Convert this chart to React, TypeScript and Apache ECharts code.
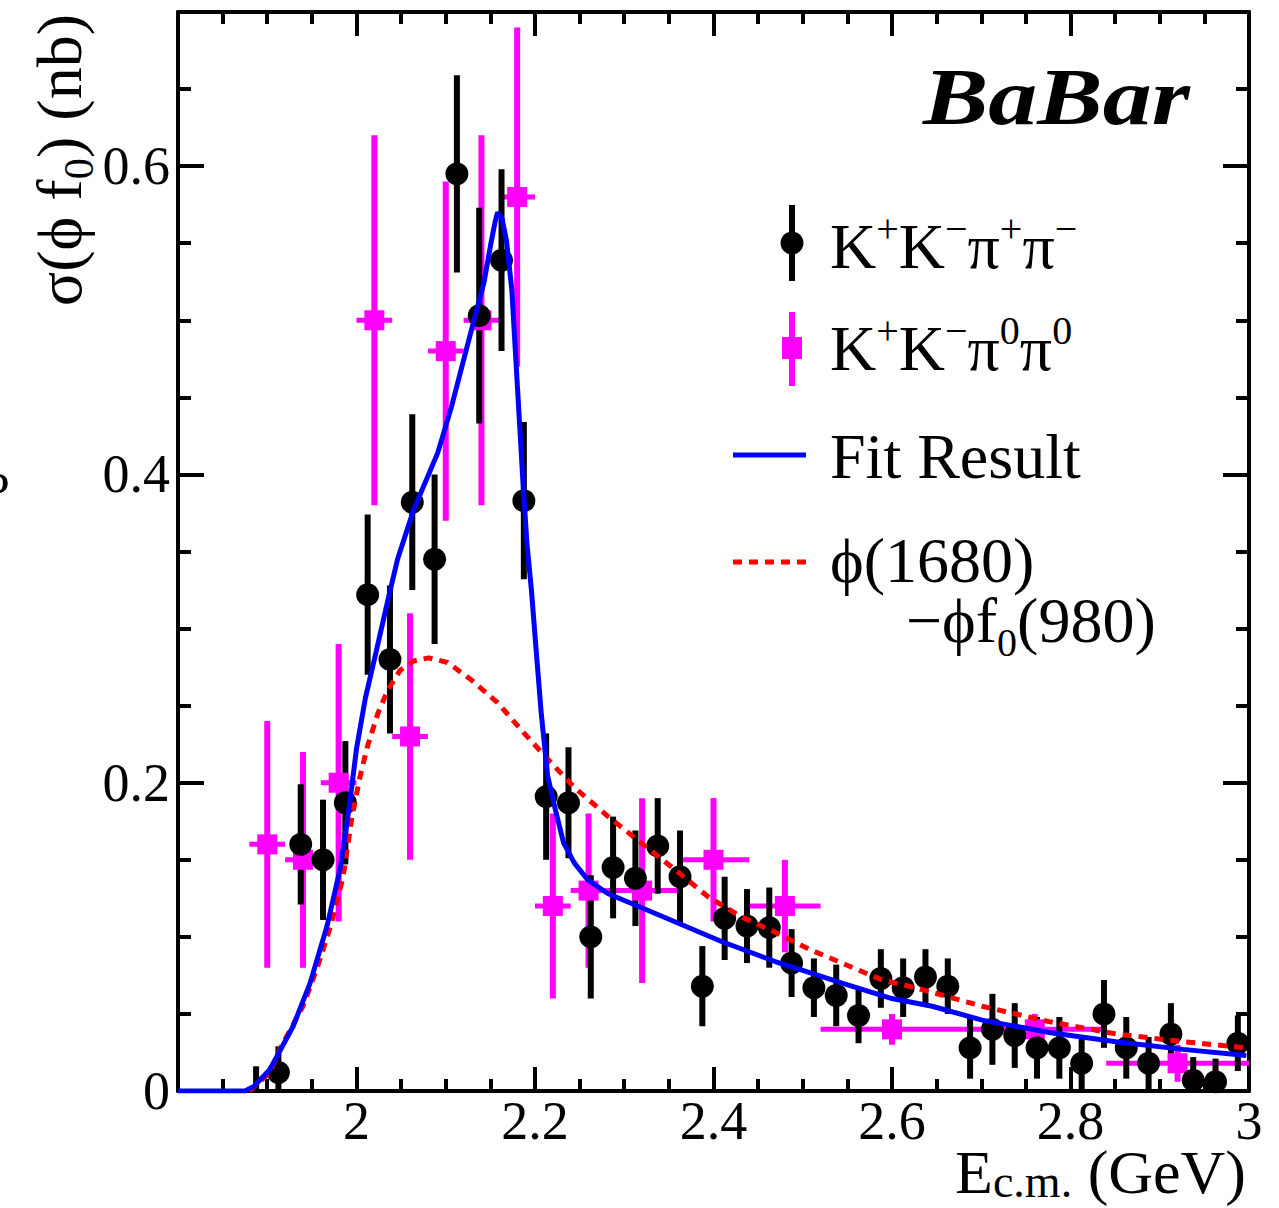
import React, { useEffect, useRef } from 'react';
import * as echarts from 'echarts';

const FF = '"Liberation Serif", "Times New Roman", serif';

// K+K-pi+pi- (black points)
const blackE = [
  1.8875, 1.9125, 1.9375, 1.9625, 1.9875, 2.0125, 2.0375, 2.0625, 2.0875, 2.1125,
  2.1375, 2.1625, 2.1875, 2.2125, 2.2375, 2.2625, 2.2875, 2.3125, 2.3375, 2.3625,
  2.3875, 2.4125, 2.4375, 2.4625, 2.4875, 2.5125, 2.5375, 2.5625, 2.5875, 2.6125,
  2.6375, 2.6625, 2.6875, 2.7125, 2.7375, 2.7625, 2.7875, 2.8125, 2.8375, 2.8625,
  2.8875, 2.9125, 2.9375, 2.9625, 2.9875,
];
const blackVal = [
  -0.004, 0.012, 0.160, 0.150, 0.187, 0.322, 0.280, 0.382, 0.345, 0.595,
  0.503, 0.539, 0.383, 0.191, 0.187, 0.100, 0.145, 0.138, 0.159, 0.139,
  0.068, 0.112, 0.107, 0.106, 0.083, 0.067, 0.062, 0.049, 0.073, 0.067,
  0.074, 0.068, 0.028, 0.040, 0.036, 0.028, 0.028, 0.018, 0.050, 0.028,
  0.018, 0.037, 0.007, 0.006, 0.031,
];
const blackErr = [
  0.020, 0.017, 0.039, 0.039, 0.040, 0.052, 0.048, 0.057, 0.055, 0.064,
  0.070, 0.059, 0.051, 0.041, 0.036, 0.040, 0.033, 0.031, 0.031, 0.030,
  0.026, 0.027, 0.024, 0.026, 0.022, 0.019, 0.020, 0.018, 0.019, 0.019,
  0.018, 0.018, 0.020, 0.023, 0.021, 0.020, 0.020, 0.018, 0.022, 0.020,
  0.017, 0.020, 0.015, 0.015, 0.018,
];

// K+K-pi0pi0 (magenta points)
const magE = [1.90, 1.94, 1.98, 2.02, 2.06, 2.10, 2.14, 2.18, 2.22, 2.26, 2.32, 2.40, 2.48, 2.60, 2.76, 2.92];
const magHalfBin = [0.02, 0.02, 0.02, 0.02, 0.02, 0.02, 0.02, 0.02, 0.02, 0.02, 0.04, 0.04, 0.04, 0.08, 0.08, 0.08];
const magVal = [0.160, 0.150, 0.200, 0.500, 0.230, 0.480, 0.500, 0.580, 0.120, 0.130, 0.130, 0.150, 0.120, 0.040, 0.040, 0.018];
const magErr = [0.080, 0.070, 0.090, 0.120, 0.080, 0.110, 0.120, 0.110, 0.060, 0.050, 0.060, 0.040, 0.030, 0.010, 0.010, 0.012];

// Fit result curve
const fitE = [
  1.800, 1.875, 1.885, 1.903, 1.929, 1.948, 1.967, 1.982, 1.992, 2.000,
  2.010, 2.022, 2.035, 2.046, 2.064, 2.091, 2.106, 2.128, 2.143, 2.150,
  2.155, 2.158, 2.163, 2.168, 2.174, 2.180, 2.186, 2.191, 2.196, 2.201,
  2.207, 2.214, 2.223, 2.232, 2.244, 2.259, 2.282, 2.319, 2.364, 2.409,
  2.469, 2.507, 2.544, 2.600, 2.645, 2.701, 2.776, 2.851, 2.926, 2.997,
];
const fitVal = [
  0.000, 0.000, 0.003, 0.014, 0.042, 0.070, 0.107, 0.145, 0.185, 0.222,
  0.255, 0.285, 0.318, 0.345, 0.377, 0.414, 0.443, 0.492, 0.525, 0.548,
  0.563, 0.570, 0.566, 0.552, 0.520, 0.460, 0.400, 0.355, 0.325, 0.288,
  0.245, 0.205, 0.182, 0.161, 0.148, 0.137, 0.128, 0.119, 0.108, 0.097,
  0.084, 0.077, 0.070, 0.060, 0.055, 0.046, 0.038, 0.032, 0.027, 0.023,
];

// phi(1680) -> phi f0(980) component
const phiE = [
  1.880, 1.903, 1.914, 1.940, 1.956, 1.971, 1.985, 1.995, 2.004, 2.012,
  2.024, 2.035, 2.049, 2.064, 2.081, 2.102, 2.128, 2.158, 2.188, 2.218,
  2.244, 2.282, 2.319, 2.356, 2.394, 2.431, 2.469, 2.507, 2.544, 2.589,
  2.626, 2.701, 2.776, 2.851, 2.926, 2.997,
];
const phiVal = [
  0.000, 0.012, 0.027, 0.055, 0.080, 0.107, 0.139, 0.178, 0.204, 0.223,
  0.245, 0.260, 0.273, 0.279, 0.281, 0.278, 0.267, 0.252, 0.232, 0.213,
  0.197, 0.178, 0.161, 0.144, 0.126, 0.113, 0.103, 0.092, 0.083, 0.072,
  0.067, 0.055, 0.045, 0.037, 0.032, 0.028,
];

const xTicks = [2, 2.2, 2.4, 2.6, 2.8, 3];
const yTicks = [0, 0.2, 0.4, 0.6];

const X_MIN = 1.8, X_MAX = 3.0, Y_MIN = 0, Y_MAX = 0.7;

let mctx: CanvasRenderingContext2D | null = null;
function tw(t: string, s: number, w = 'normal', st = 'normal') {
  if (!mctx) mctx = document.createElement('canvas').getContext('2d');
  mctx!.font = `${st} ${w} ${s}px "Liberation Serif"`;
  return mctx!.measureText(t).width;
}

type Seg = { t: string; s: number; dy?: number; w?: string; st?: string };

function lineEls(segs: Seg[], x0: number, base: number, fill: string) {
  const els: any[] = [];
  let x = x0;
  for (const g of segs) {
    els.push({
      type: 'text',
      x,
      y: base + (g.dy || 0) - 0.3375 * g.s,
      style: {
        text: g.t, fontSize: g.s, fontFamily: FF, fontWeight: g.w || 'normal',
        fontStyle: g.st || 'normal', fill, align: 'left', verticalAlign: 'middle',
        lineHeight: Math.round(g.s * 0.8),
      },
    });
    x += tw(g.t, g.s, g.w || 'normal', g.st || 'normal');
  }
  return { els, width: x - x0 };
}
function segWidth(segs: Seg[]) {
  return segs.reduce((a, g) => a + tw(g.t, g.s, g.w || 'normal', g.st || 'normal'), 0);
}

function axisCommon(extra: any) {
  return Object.assign({
    type: 'value',
    splitLine: { show: false },
    axisLine: { show: false, onZero: false, lineStyle: { color: '#000', width: 4 } },
    axisTick: { show: true, inside: true, lineStyle: { color: '#000', width: 4 } },
    axisLabel: { show: false },
  }, extra);
}

export default function App() {
  const ref = useRef<HTMLDivElement>(null);
  useEffect(() => {
    const chart = echarts.init(ref.current!, undefined, { renderer: 'svg' });

    const B = 54; // tick label size
    const T = 62; // title size
    const L = 64; // legend size
    const SUP = 40;

    // x axis title
    const xSegs: Seg[] = [
      { t: 'E', s: T }, { t: 'c.m.', s: 46, dy: 4 }, { t: ' (GeV)', s: T },
    ];
    const xw = segWidth(xSegs);
    const xTitle = lineEls(xSegs, 1246 - xw, 1193, '#000');

    // y axis title (rotated)
    const ySegs: Seg[] = [
      { t: 'σ(ϕ f', s: 64 }, { t: '0', s: 43, dy: 12 }, { t: ') (nb)', s: 64 },
    ];
    const yw = segWidth(ySegs);
    const yTitle = lineEls(ySegs, 0, 0, '#000');

    // legend texts
    const row1 = lineEls([
      { t: 'K', s: L }, { t: '+', s: SUP, dy: -26 }, { t: 'K', s: L }, { t: '−', s: SUP, dy: -26 },
      { t: 'π', s: L }, { t: '+', s: SUP, dy: -26 }, { t: 'π', s: L }, { t: '−', s: SUP, dy: -26 },
    ], 830, 268, '#000');
    const row2 = lineEls([
      { t: 'K', s: L }, { t: '+', s: SUP, dy: -26 }, { t: 'K', s: L }, { t: '−', s: SUP, dy: -26 },
      { t: 'π', s: L }, { t: '0', s: SUP, dy: -26 }, { t: 'π', s: L }, { t: '0', s: SUP, dy: -26 },
    ], 830, 370, '#000');
    const row3 = lineEls([{ t: 'Fit Result', s: L }], 830, 478, '#000');
    const row4 = lineEls([{ t: 'ϕ(1680)', s: L }], 830, 582, '#000');
    const row5 = lineEls([
      { t: '−ϕf', s: L }, { t: '0', s: SUP, dy: 14 }, { t: '(980)', s: L },
    ], 906, 642, '#000');

    const babarW = tw('BaBar', 81, 'bold', 'italic');
    const babarScale = 267 / babarW;

    const graphics: any[] = [
      ...xTitle.els,
      { type: 'group', x: 81, y: 14 + yw, rotation: Math.PI / 2, children: yTitle.els },
      ...row1.els, ...row2.els, ...row3.els, ...row4.els, ...row5.els,
      {
        type: 'group', x: 923, y: 124, scaleX: babarScale,
        children: lineEls([{ t: 'BaBar', s: 81, w: 'bold', st: 'italic' }], 0, 0, '#000').els,
      },
      // legend symbols
      { type: 'line', shape: { x1: 792, y1: 205, x2: 792, y2: 281 }, style: { stroke: '#000', lineWidth: 6 } },
      { type: 'circle', shape: { cx: 792, cy: 243, r: 11.5 }, style: { fill: '#000' } },
      { type: 'line', shape: { x1: 792, y1: 312, x2: 792, y2: 386 }, style: { stroke: '#ff00ff', lineWidth: 6 } },
      { type: 'rect', shape: { x: 782, y: 337, width: 20, height: 22 }, style: { fill: '#ff00ff' } },
      { type: 'line', shape: { x1: 733, y1: 455, x2: 806, y2: 455 }, style: { stroke: '#0000ff', lineWidth: 5 } },
      { type: 'line', shape: { x1: 733, y1: 562, x2: 806, y2: 562 }, style: { stroke: '#ff0000', lineWidth: 5, lineDash: [9, 7] } },
      // cropped glyph at the left edge (as in the reference)
      { type: 'text', x: -14, y: 510 - 0.3375 * 54, style: { text: '?', fontSize: 54, fontFamily: FF, fill: '#000', align: 'left', verticalAlign: 'middle' } },
    ];

    const xLabelFmt = (v: number) => (xTicks.some((t) => Math.abs(t - v) < 1e-6) ? String(+v.toFixed(2)) : '');
    const yLabelFmt = (v: number) => (yTicks.some((t) => Math.abs(t - v) < 1e-6) ? String(+v.toFixed(2)) : '');

    const option: any = {
      animation: false,
      backgroundColor: '#ffffff',
      grid: { left: 178, right: 30, top: 12, bottom: 117, containLabel: false },
      xAxis: [
        axisCommon({
          min: X_MIN, max: X_MAX, interval: 0.2, position: 'bottom',
          axisLine: { show: true, onZero: false, lineStyle: { color: '#000', width: 4 } },
          axisTick: { show: true, inside: true, length: 24, lineStyle: { color: '#000', width: 4 } },
          axisLabel: {
            show: true, showMinLabel: false, formatter: xLabelFmt, margin: 8,
            fontSize: B, fontFamily: FF, color: '#000', lineHeight: 44,
          },
        }),
        axisCommon({ min: X_MIN, max: X_MAX, interval: 0.05, position: 'bottom',
          axisTick: { show: true, inside: true, length: 12, lineStyle: { color: '#000', width: 4 } } }),
        axisCommon({
          min: X_MIN, max: X_MAX, interval: 0.2, position: 'top',
          axisLine: { show: true, onZero: false, lineStyle: { color: '#000', width: 4 } },
          axisTick: { show: true, inside: true, length: 24, lineStyle: { color: '#000', width: 4 } },
        }),
        axisCommon({ min: X_MIN, max: X_MAX, interval: 0.05, position: 'top',
          axisTick: { show: true, inside: true, length: 12, lineStyle: { color: '#000', width: 4 } } }),
      ],
      yAxis: [
        axisCommon({
          min: Y_MIN, max: Y_MAX, interval: 0.2, position: 'left',
          axisLine: { show: true, onZero: false, lineStyle: { color: '#000', width: 4 } },
          axisTick: { show: true, inside: true, length: 26, lineStyle: { color: '#000', width: 4 } },
          axisLabel: {
            show: true, showMaxLabel: false, formatter: yLabelFmt, margin: 8,
            fontSize: B, fontFamily: FF, color: '#000',
          },
        }),
        axisCommon({ min: Y_MIN, max: Y_MAX, interval: 0.05, position: 'left',
          axisTick: { show: true, inside: true, length: 13, lineStyle: { color: '#000', width: 4 } } }),
        axisCommon({
          min: Y_MIN, max: Y_MAX, interval: 0.2, position: 'right',
          axisLine: { show: true, onZero: false, lineStyle: { color: '#000', width: 4 } },
          axisTick: { show: true, inside: true, length: 26, lineStyle: { color: '#000', width: 4 } },
        }),
        axisCommon({ min: Y_MIN, max: Y_MAX, interval: 0.05, position: 'right',
          axisTick: { show: true, inside: true, length: 13, lineStyle: { color: '#000', width: 4 } } }),
      ],
      graphic: graphics,
      series: [
        {
          name: 'K+K−π0π0 errors', type: 'custom', xAxisIndex: 0, yAxisIndex: 0, clip: true,
          encode: { x: 0, y: 1 },
          data: magE.map((e, i) => [e, magVal[i], magErr[i], magHalfBin[i]]),
          renderItem: (params: any, api: any) => {
            const x = api.value(0), v = api.value(1), er = api.value(2), hw = api.value(3);
            const a = api.coord([x, Math.max(Y_MIN, v - er)]);
            const b = api.coord([x, Math.min(Y_MAX, v + er)]);
            const c = api.coord([Math.max(X_MIN, x - hw), v]);
            const d = api.coord([Math.min(X_MAX, x + hw), v]);
            return {
              type: 'group',
              children: [
                { type: 'line', shape: { x1: a[0], y1: a[1], x2: b[0], y2: b[1] }, style: { stroke: '#ff00ff', lineWidth: 6 } },
                { type: 'line', shape: { x1: c[0], y1: c[1], x2: d[0], y2: d[1] }, style: { stroke: '#ff00ff', lineWidth: 5 } },
              ],
            };
          },
        },
        {
          name: 'K+K−π0π0', type: 'scatter', xAxisIndex: 0, yAxisIndex: 0, clip: true,
          symbol: 'rect', symbolSize: 20, itemStyle: { color: '#ff00ff', opacity: 1 },
          data: magE.map((e, i) => [e, magVal[i]]),
        },
        {
          name: 'K+K−π+π− errors', type: 'custom', xAxisIndex: 0, yAxisIndex: 0, clip: true,
          encode: { x: 0, y: 1 },
          data: blackE.map((e, i) => [e, blackVal[i], blackErr[i]]),
          renderItem: (params: any, api: any) => {
            const x = api.value(0), v = api.value(1), er = api.value(2);
            const a = api.coord([x, Math.max(Y_MIN, v - er)]);
            const b = api.coord([x, Math.min(Y_MAX, v + er)]);
            return { type: 'line', shape: { x1: a[0], y1: a[1], x2: b[0], y2: b[1] }, style: { stroke: '#000', lineWidth: 6 } };
          },
        },
        {
          name: 'K+K−π+π−', type: 'scatter', xAxisIndex: 0, yAxisIndex: 0, clip: true,
          symbol: 'circle', symbolSize: 23, itemStyle: { color: '#000', opacity: 1 },
          data: blackE.map((e, i) => [e, blackVal[i]]),
        },
        {
          name: 'ϕ(1680)−ϕf0(980)', type: 'line', xAxisIndex: 0, yAxisIndex: 0, clip: true,
          showSymbol: false, symbol: 'none', smooth: false,
          lineStyle: { color: '#ff0000', width: 5, type: [9, 7] },
          data: phiE.map((e, i) => [e, phiVal[i]]),
        },
        {
          name: 'Fit Result', type: 'line', xAxisIndex: 0, yAxisIndex: 0, clip: true,
          showSymbol: false, symbol: 'none', smooth: false,
          lineStyle: { color: '#0000ff', width: 5 },
          data: fitE.map((e, i) => [e, fitVal[i]]),
        },
      ],
    };
    chart.setOption(option);
    return () => chart.dispose();
  }, []);
  return <div ref={ref} style={{ position: 'absolute', left: 0, top: 0, width: 1279, height: 1208, background: '#fff' }} />;
}
